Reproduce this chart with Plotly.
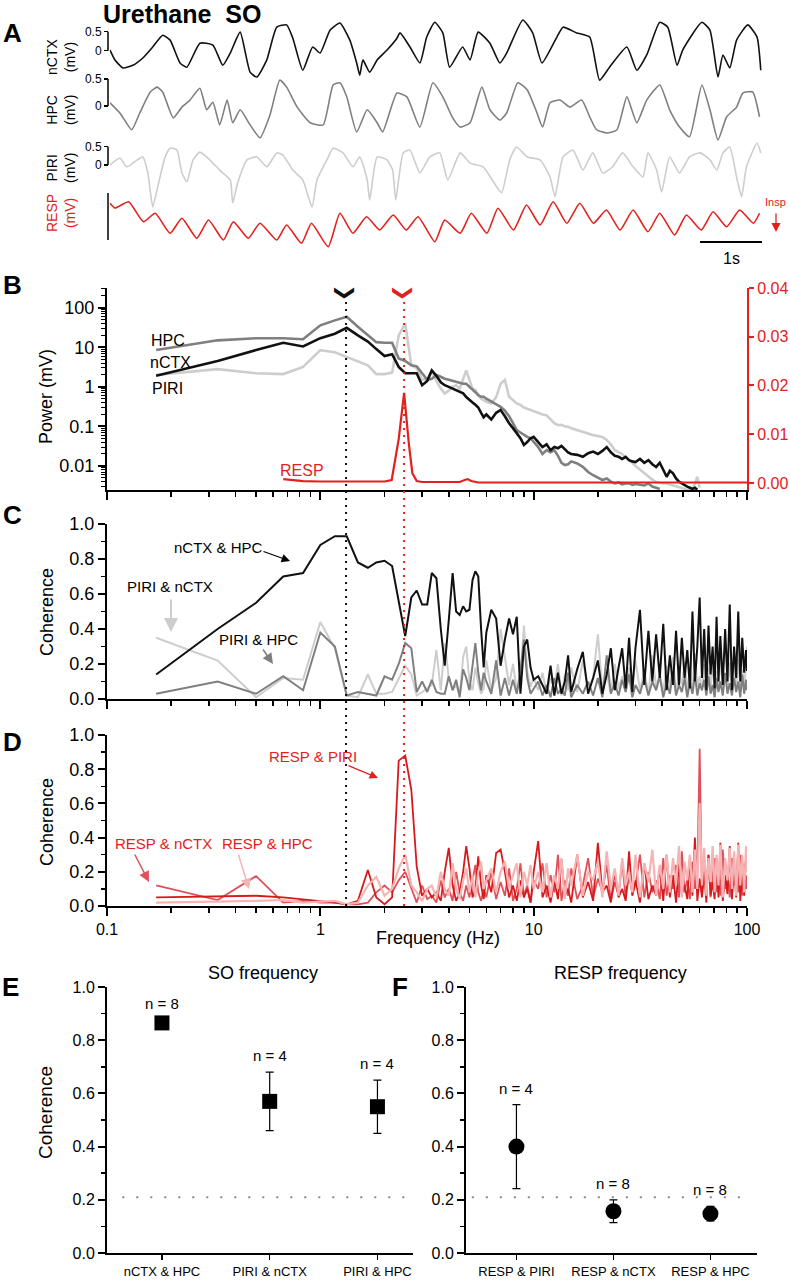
import math
import plotly.graph_objects as go

W, H = 790, 1280
FONT = "Liberation Sans, Arial, sans-serif"

# ---------------- data ----------------
# Panel A: raw traces (time in s, amplitude in mV)
NCTX_T = [0.00, 0.08, 0.21, 0.37, 0.53, 0.69, 0.85, 0.97, 1.13, 1.24, 1.45, 1.66, 1.82, 1.94, 2.10, 2.26, 2.37, 2.53,
          2.69, 2.85, 2.95, 3.11, 3.27, 3.39, 3.55, 3.71, 3.87, 3.98, 4.03, 4.08, 4.19, 4.31, 4.47, 4.63, 4.68, 4.84,
          5.00, 5.11, 5.24, 5.37, 5.48, 5.69, 5.81, 5.94, 6.13, 6.29, 6.40, 6.66, 6.82, 6.97, 7.21, 7.31, 7.53, 7.74,
          7.90, 8.06, 8.34, 8.50, 8.66, 8.87, 9.00, 9.15, 9.24, 9.55, 9.68, 9.81, 9.89, 10.00, 10.11, 10.29, 10.44, 10.50]
NCTX_MV = [0.02, -0.24, -0.45, -0.38, -0.19, 0.10, 0.41, 0.28, -0.32, -0.43, 0.20, 0.15, -0.38, -0.06, 0.49, -0.56,
           -0.69, -0.24, 0.62, 0.68, 0.33, -0.51, 0.10, -0.06, 0.54, 0.73, 0.28, -0.32, -0.64, -0.24, -0.56, -0.24,
           0.02, 0.33, 0.47, 0.10, -0.32, 0.36, 0.75, 0.47, -0.43, 0.10, -0.24, 0.49, 0.20, -0.32, -0.06, 0.81, 0.47,
           -0.32, 0.36, 0.62, 0.47, 0.36, -0.77, -0.43, 0.10, -0.51, -0.11, 0.75, 0.62, -0.38, 0.02, 0.75, 0.54, -0.69,
           -0.11, -0.45, 0.28, 0.68, 0.36, -0.51]
HPC_T = [0.00, 0.16, 0.35, 0.48, 0.65, 0.76, 0.85, 1.02, 1.16, 1.29, 1.45, 1.56, 1.66, 1.77, 1.89, 1.98, 2.10, 2.26,
         2.42, 2.58, 2.74, 2.85, 3.02, 3.23, 3.44, 3.60, 3.71, 3.82, 3.98, 4.15, 4.31, 4.40, 4.63, 4.79, 5.00, 5.21,
         5.37, 5.53, 5.65, 5.81, 6.00, 6.13, 6.29, 6.40, 6.58, 6.73, 6.89, 6.98, 7.10, 7.26, 7.42, 7.61, 7.74, 7.85,
         8.02, 8.18, 8.34, 8.50, 8.66, 8.87, 9.03, 9.19, 9.35, 9.55, 9.68, 9.81, 9.95, 10.11, 10.21, 10.37, 10.48]
HPC_MV = [0.06, -0.13, -0.44, -0.13, 0.26, 0.35, 0.26, -0.22, -0.02, 0.11, 0.33, -0.07, 0.07, -0.35, 0.11, -0.31,
          -0.07, -0.35, -0.59, -0.17, 0.48, 0.35, -0.02, -0.31, -0.35, 0.39, 0.43, 0.17, -0.48, -0.07, -0.31, -0.48,
          0.24, 0.17, -0.39, 0.43, 0.17, -0.22, -0.39, -0.31, 0.35, -0.07, -0.26, -0.13, 0.43, 0.30, -0.13, -0.39,
          0.06, 0.11, -0.02, 0.11, -0.20, -0.44, -0.50, -0.44, 0.17, -0.31, 0.11, 0.39, -0.07, -0.39, -0.57, 0.39,
          -0.07, -0.63, -0.20, -0.02, 0.24, 0.26, -0.20]
PIRI_T = [0.00, 0.16, 0.27, 0.44, 0.53, 0.61, 0.69, 0.77, 0.89, 0.97, 1.08, 1.16, 1.24, 1.34, 1.45, 1.61, 1.77, 1.94,
          1.98, 2.06, 2.21, 2.37, 2.53, 2.69, 2.79, 2.95, 3.11, 3.26, 3.34, 3.50, 3.60, 3.76, 3.92, 4.03, 4.15, 4.19,
          4.31, 4.47, 4.56, 4.61, 4.73, 4.84, 5.00, 5.16, 5.32, 5.45, 5.65, 5.81, 6.02, 6.24, 6.32, 6.45, 6.56, 6.73,
          6.94, 7.10, 7.18, 7.31, 7.47, 7.63, 7.79, 7.95, 8.11, 8.27, 8.44, 8.60, 8.68, 8.82, 8.90, 9.03, 9.19, 9.35,
          9.52, 9.68, 9.79, 9.89, 10.00, 10.11, 10.19, 10.27, 10.44, 10.50]
PIRI_MV = [0.00, 0.19, -0.05, 0.14, 0.22, -0.22, -1.15, -0.60, 0.22, 0.46, 0.41, -0.22, -0.46, 0.14, 0.35, 0.14,
           -0.14, -0.41, -1.04, -0.49, 0.14, 0.22, -0.05, 0.33, 0.27, -0.14, -0.41, -1.15, -0.41, 0.14, 0.46, 0.33,
           -0.05, 0.22, -0.41, -0.96, 0.22, 0.14, -0.14, -0.96, 0.33, 0.41, -0.22, 0.22, 0.33, -0.41, 0.33, 0.05,
           -0.05, -0.60, -0.76, 0.14, 0.49, 0.22, 0.14, -0.33, -0.87, 0.22, 0.41, -0.14, 0.33, -0.22, -0.05, 0.33,
           -0.05, -0.33, 0.33, -0.14, -0.74, 0.22, -0.22, 0.22, 0.33, 0.14, -0.14, 0.33, 0.49, -0.33, -0.87, -0.05,
           0.60, 0.33]
RESP_T = [0.00, 0.08, 0.30, 0.54, 0.73, 0.97, 1.16, 1.40, 1.59, 1.83, 1.99, 2.23, 2.42, 2.69, 2.85, 3.09, 3.25, 3.52,
          3.71, 3.92, 4.14, 4.35, 4.57, 4.78, 4.97, 5.24, 5.40, 5.65, 5.83, 6.08, 6.26, 6.51, 6.72, 6.94, 7.15, 7.37,
          7.58, 7.80, 8.01, 8.23, 8.44, 8.68, 8.87, 9.11, 9.30, 9.54, 9.73, 9.95, 10.16, 10.38, 10.48]
RESP_V = [0.67, 0.48, 0.73, -0.07, 0.27, -0.53, 0.07, -0.73, 0.00, -0.80, -0.07, -0.73, -0.13, -0.80, -0.20, -0.93,
          -0.13, -1.07, 0.27, -0.53, 0.13, -0.40, 0.20, -0.40, 0.13, -0.87, 0.00, -0.53, 0.27, -0.53, 0.47, -0.40,
          0.60, -0.20, 0.73, -0.13, 0.67, -0.13, 0.40, -0.40, 0.40, -0.47, 0.27, -0.60, 0.20, -0.40, 0.33, -0.27,
          0.40, -0.13, 0.27]

# Panels B-D: frequency bins (Hz)
FREQ = [0.17, 0.33, 0.5, 0.67, 0.83, 1.0, 1.17, 1.33, 1.5, 1.67, 1.83, 2.0, 2.17, 2.33, 2.5, 2.67, 2.83, 3.0,
        3.17, 3.33, 3.5, 3.67, 3.83, 4.0, 4.17, 4.33, 4.5, 4.67, 4.83, 5.0, 5.17, 5.33, 5.5, 5.67, 5.83, 6.0,
        6.33, 6.67, 7.0, 7.33, 7.67, 8.0, 8.33, 8.67, 9.0, 9.33, 9.67, 10.0,
        10.5, 11.0, 11.5, 12.0, 12.5, 13.0, 13.5, 14.0, 14.5, 15.0, 16.0, 17.0, 18.0, 19.0, 20.0, 21.0, 22.0, 23.0,
        24.0, 25.0, 26.0, 27.0, 28.0, 29.0, 30.0, 31.5, 33.0, 34.5, 36.0, 37.5, 39.0, 40.5, 42.0, 43.5, 45.0, 46.5,
        48.0, 49.5, 51.0, 52.5, 54.0, 55.5, 57.0, 58.5, 60.0, 61.5, 63.0, 64.5, 66.0, 67.5, 69.0, 70.5, 72.0, 73.5,
        75.0, 77.0, 79.0, 81.0, 83.0, 85.0, 87.0, 89.0, 91.0, 93.0, 95.0, 97.0, 99.0, 100.0]

# Panel B: power spectra (log axis), traces end where they drop below the axis
PSD_NCTX = [1.9, 4.5, 8.5, 13, 10.5, 17, 22, 31, 20, 14, 9, 6, 6.7, 3.2, 2.2, 2.2, 2.2, 1.1, 1.4, 2.6, 1.9, 1.3,
            1.1, 1.0, 0.9, 0.85, 0.75, 0.69, 0.55, 0.48, 0.40, 0.35, 0.30, 0.22, 0.17, 0.20, 0.15, 0.22, 0.26, 0.18,
            0.12, 0.09, 0.067, 0.05, 0.034, 0.04, 0.05, 0.054,
            0.040, 0.030, 0.035, 0.025, 0.030, 0.028, 0.032, 0.026, 0.022, 0.020, 0.019, 0.017, 0.021, 0.023, 0.020,
            0.024, 0.030, 0.022, 0.018, 0.017, 0.015, 0.017, 0.014, 0.013, 0.0125, 0.015, 0.012, 0.014, 0.011,
            0.0094, 0.012, 0.008, 0.0053, 0.0075, 0.0065, 0.0048, 0.0040, 0.0036, 0.0032, 0.0030, 0.0028, 0.0026,
            0.0028, 0.0025]
PSD_HPC = [8.5, 15, 17, 17, 16, 36, 48, 59, 33, 20, 13.5, 13, 13, 5.2, 4.5, 3.5, 3.3, 2.2, 1.5, 1.6, 2.0, 1.8, 1.6,
           1.5, 1.4, 1.3, 1.25, 1.2, 1.2, 1.0, 0.85, 0.70, 0.62, 0.56, 0.56, 0.50, 0.42, 0.35, 0.31, 0.25, 0.18, 0.12,
           0.08, 0.07, 0.06, 0.054, 0.05, 0.04,
           0.03, 0.02, 0.025, 0.022, 0.025, 0.018, 0.012, 0.0105, 0.011, 0.013, 0.0115, 0.0095, 0.007, 0.0058, 0.005,
           0.0044, 0.0048, 0.004, 0.0036, 0.0038, 0.0034, 0.0036, 0.0036, 0.0033, 0.0035, 0.0033, 0.0032, 0.0036,
           0.0030, 0.0028, 0.0026]
PSD_PIRI = [2.0, 2.8, 2.2, 2.1, 3.2, 8.5, 7.5, 5.7, 4.3, 3.5, 2.1, 2.1, 2.3, 20, 40, 3.5, 3.0, 1.5, 1.6, 2.6, 1.4, 0.9,
            0.68, 0.8, 1.0, 1.1, 0.9, 1.5, 2.6, 1.5, 0.9, 0.83, 0.6, 0.5, 0.45, 0.42, 0.38, 0.55, 1.2, 1.5, 0.56, 0.45,
            0.38, 0.35, 0.30, 0.28, 0.26, 0.24,
            0.22, 0.20, 0.19, 0.15, 0.12, 0.107, 0.11, 0.10, 0.097, 0.09, 0.08, 0.07, 0.066, 0.06, 0.057, 0.054, 0.045,
            0.035, 0.025, 0.022, 0.02, 0.016, 0.014, 0.012, 0.010, 0.008, 0.0064, 0.0055, 0.0045, 0.0039, 0.0037,
            0.0036, 0.0036, 0.0034, 0.0032, 0.003, 0.0028, 0.0027, 0.0026, 0.0025, 0.0025, 0.0026, 0.0035, 0.0053,
            0.0028]
RESP_FREQ = [0.67, 0.83, 1.0, 1.33, 1.67, 2.0, 2.16, 2.33, 2.47, 2.6, 2.7, 2.83, 3.0, 4.5, 4.75, 4.9, 5.1, 5.5,
             10.0, 30.0, 100.0]
RESP_PSD = [0.0008, 0.0004, 0.0003, 0.0003, 0.0002, 0.0003, 0.0006, 0.009, 0.0185, 0.008, 0.002, 0.0004, 0.0002,
            0.0002, 0.0006, 0.0008, 0.0004, 0.0001, 0.0001, 0.0001, 0.0001]

# Panel C: coherence between LFP pairs
COH_NCTX_HPC = [0.14, 0.40, 0.55, 0.70, 0.72, 0.88, 0.93, 0.93, 0.78, 0.75, 0.78, 0.79, 0.76, 0.55, 0.36, 0.58,
                0.62, 0.54, 0.54, 0.72, 0.69, 0.40, 0.19, 0.45, 0.72, 0.50, 0.48, 0.53, 0.50, 0.51, 0.68, 0.73,
                0.70, 0.40, 0.18, 0.38, 0.51, 0.46, 0.19, 0.34, 0.46, 0.37, 0.47, 0.03, 0.30, 0.34, 0.18, 0.11,
                0.13, 0.08, 0.03, 0.19, 0.02, 0.15, 0.03, 0.10, 0.25, 0.04, 0.17, 0.27, 0.03, 0.12, 0.22, 0.03,
                0.14, 0.29, 0.05, 0.18, 0.29, 0.06, 0.35, 0.04, 0.29, 0.51, 0.08, 0.39, 0.10, 0.37, 0.12, 0.43,
                0.05, 0.25, 0.08, 0.39, 0.08, 0.35, 0.12, 0.28, 0.06, 0.50, 0.10, 0.30, 0.58, 0.12, 0.40, 0.05,
                0.42, 0.14, 0.30, 0.06, 0.47, 0.10, 0.36, 0.08, 0.40, 0.10, 0.54, 0.05, 0.30, 0.12, 0.50, 0.10,
                0.35, 0.15, 0.28, 0.16]
COH_PIRI_HPC = [0.03, 0.10, 0.03, 0.13, 0.05, 0.38, 0.30, 0.02, 0.04, 0.03, 0.02, 0.13, 0.11, 0.20, 0.32, 0.29,
                0.04, 0.10, 0.04, 0.11, 0.04, 0.03, 0.03, 0.13, 0.05, 0.11, 0.01, 0.17, 0.12, 0.05, 0.20, 0.32,
                0.15, 0.05, 0.15, 0.10, 0.03, 0.22, 0.02, 0.12, 0.02, 0.11, 0.03, 0.16, 0.34, 0.12, 0.03, 0.06,
                0.10, 0.02, 0.08, 0.01, 0.12, 0.03, 0.06, 0.02, 0.15, 0.01, 0.08, 0.03, 0.10, 0.02, 0.12, 0.01,
                0.25, 0.03, 0.09, 0.02, 0.11, 0.04, 0.14, 0.01, 0.08, 0.03, 0.12, 0.02, 0.10, 0.05, 0.13, 0.01,
                0.09, 0.03, 0.16, 0.02, 0.08, 0.04, 0.12, 0.01, 0.10, 0.03, 0.14, 0.02, 0.09, 0.05, 0.11, 0.02,
                0.13, 0.03, 0.08, 0.01, 0.12, 0.04, 0.10, 0.02, 0.15, 0.03, 0.09, 0.02, 0.12, 0.04, 0.10, 0.01,
                0.14, 0.03, 0.11, 0.05]
COH_PIRI_NCTX = [0.35, 0.22, 0.01, 0.12, 0.11, 0.44, 0.29, 0.02, 0.01, 0.14, 0.03, 0.03, 0.04, 0.12, 0.19, 0.14,
                 0.02, 0.04, 0.06, 0.08, 0.28, 0.05, 0.32, 0.12, 0.05, 0.08, 0.02, 0.24, 0.30, 0.10, 0.05, 0.18,
                 0.09, 0.03, 0.06, 0.22, 0.05, 0.12, 0.40, 0.25, 0.08, 0.20, 0.05, 0.10, 0.42, 0.16, 0.07, 0.12,
                 0.05, 0.15, 0.03, 0.12, 0.06, 0.20, 0.02, 0.14, 0.05, 0.18, 0.04, 0.22, 0.06, 0.12, 0.37, 0.05,
                 0.15, 0.03, 0.20, 0.06, 0.13, 0.04, 0.18, 0.08, 0.22, 0.05, 0.16, 0.03, 0.25, 0.07, 0.14, 0.04,
                 0.19, 0.06, 0.24, 0.03, 0.15, 0.08, 0.21, 0.05, 0.17, 0.04, 0.26, 0.07, 0.13, 0.05, 0.20, 0.03,
                 0.18, 0.06, 0.22, 0.04, 0.16, 0.08, 0.25, 0.05, 0.14, 0.06, 0.21, 0.03, 0.19, 0.07, 0.23, 0.05,
                 0.17, 0.04, 0.22, 0.30]

# Panel D: coherence of respiration with each LFP
COH_RESP_PIRI = [0.05, 0.055, 0.06, 0.05, 0.04, 0.03, 0.02, 0.01, 0.03, 0.21, 0.05, 0.01, 0.05, 0.85, 0.88, 0.68,
                 0.23, 0.06, 0.10, 0.05, 0.08, 0.03, 0.20, 0.34, 0.12, 0.03, 0.08, 0.20, 0.35, 0.22, 0.05, 0.10,
                 0.29, 0.12, 0.04, 0.18, 0.08, 0.31, 0.33, 0.20, 0.05, 0.12, 0.03, 0.15, 0.05, 0.10, 0.02, 0.20,
                 0.38, 0.05, 0.12, 0.02, 0.15, 0.04, 0.27, 0.06, 0.10, 0.02, 0.30, 0.05, 0.14, 0.03, 0.37, 0.08,
                 0.12, 0.02, 0.20, 0.05, 0.10, 0.03, 0.32, 0.06, 0.15, 0.02, 0.25, 0.04, 0.12, 0.06, 0.22, 0.03,
                 0.30, 0.05, 0.18, 0.02, 0.25, 0.07, 0.12, 0.04, 0.28, 0.06, 0.40, 0.03, 0.16, 0.05, 0.20, 0.02,
                 0.30, 0.06, 0.14, 0.04, 0.28, 0.05, 0.37, 0.03, 0.18, 0.07, 0.35, 0.04, 0.22, 0.05, 0.37, 0.03,
                 0.20, 0.06, 0.30, 0.25]
COH_RESP_NCTX = [0.12, 0.035, 0.175, 0.02, 0.03, 0.02, 0.02, 0.01, 0.01, 0.02, 0.08, 0.12, 0.08, 0.15, 0.20, 0.10,
                 0.02, 0.12, 0.04, 0.06, 0.02, 0.15, 0.05, 0.10, 0.03, 0.20, 0.08, 0.03, 0.12, 0.05, 0.15, 0.24,
                 0.08, 0.03, 0.10, 0.05, 0.20, 0.04, 0.14, 0.06, 0.22, 0.03, 0.10, 0.25, 0.06, 0.12, 0.02, 0.15,
                 0.10, 0.25, 0.05, 0.18, 0.08, 0.30, 0.03, 0.15, 0.06, 0.22, 0.04, 0.12, 0.28, 0.05, 0.16, 0.08,
                 0.24, 0.03, 0.14, 0.06, 0.26, 0.04, 0.18, 0.07, 0.12, 0.30, 0.05, 0.20, 0.08, 0.15, 0.04, 0.28,
                 0.06, 0.18, 0.10, 0.24, 0.05, 0.32, 0.08, 0.16, 0.04, 0.26, 0.10, 0.20, 0.92, 0.06, 0.22, 0.10,
                 0.30, 0.05, 0.18, 0.28, 0.08, 0.24, 0.06, 0.33, 0.10, 0.20, 0.05, 0.28, 0.12, 0.22, 0.08, 0.30,
                 0.06, 0.25, 0.10, 0.18]
COH_RESP_HPC = [0.02, 0.025, 0.03, 0.035, 0.02, 0.025, 0.03, 0.01, 0.02, 0.12, 0.17, 0.06, 0.10, 0.22, 0.30, 0.12,
                0.08, 0.03, 0.10, 0.12, 0.05, 0.20, 0.10, 0.06, 0.25, 0.10, 0.04, 0.15, 0.22, 0.08, 0.18, 0.05,
                0.20, 0.26, 0.10, 0.15, 0.22, 0.08, 0.20, 0.26, 0.10, 0.18, 0.25, 0.05, 0.20, 0.12, 0.24, 0.10,
                0.20, 0.08, 0.25, 0.05, 0.18, 0.10, 0.28, 0.04, 0.22, 0.12, 0.30, 0.06, 0.20, 0.15, 0.26, 0.05,
                0.32, 0.10, 0.22, 0.06, 0.28, 0.12, 0.20, 0.08, 0.30, 0.05, 0.25, 0.14, 0.33, 0.06, 0.24, 0.10,
                0.30, 0.08, 0.28, 0.12, 0.35, 0.05, 0.26, 0.15, 0.30, 0.08, 0.33, 0.10, 0.60, 0.12, 0.34, 0.06,
                0.28, 0.14, 0.35, 0.08, 0.30, 0.12, 0.36, 0.05, 0.28, 0.15, 0.34, 0.10, 0.32, 0.06, 0.36, 0.12,
                0.30, 0.08, 0.35, 0.20]

SO_PEAK_HZ = 1.32
RESP_PEAK_HZ = 2.47

# Panels E-F: group coherence (mean +/- SEM)
E_PAIRS = ["nCTX & HPC", "PIRI & nCTX", "PIRI & HPC"]
E_MEAN = [0.865, 0.57, 0.55]
E_SEM = [0.01, 0.11, 0.10]
E_N = [8, 4, 4]
F_PAIRS = ["RESP & PIRI", "RESP & nCTX", "RESP & HPC"]
F_MEAN = [0.40, 0.157, 0.148]
F_SEM = [0.158, 0.043, 0.027]
F_N = [4, 8, 8]
CHANCE = 0.21

for s in (COH_NCTX_HPC, COH_PIRI_HPC, COH_PIRI_NCTX, COH_RESP_PIRI, COH_RESP_NCTX, COH_RESP_HPC):
    assert len(s) == len(FREQ), len(s)
assert len(RESP_T) == len(RESP_V)

# ---------------- styling ----------------
BLACK = "#111111"
GRAY = "#7f7f7f"
LGRAY = "#cdcdcd"
RED = "#e3211c"
D_PIRI = "#d7191c"
D_NCTX = "#e0505a"
D_HPC = "#f6b3b3"


def xdom(left, right):
    return [left / W, right / W]


def ydom(top, bottom):
    return [1 - bottom / H, 1 - top / H]


def px(x, y):
    return x / W, 1 - y / H


MINOR_LOG = [m * 10 ** e for e in range(-3, 3) for m in range(2, 10)]

fig = go.Figure()


def line(x, y, xa, ya, color, width, shape="linear"):
    fig.add_trace(go.Scatter(x=x, y=y, xaxis=xa, yaxis=ya, mode="lines",
                             line=dict(color=color, width=width, shape=shape, smoothing=0.5),
                             hoverinfo="skip"))


# A
line(NCTX_T, NCTX_MV, "x", "y", BLACK, 1.6, "spline")
line(HPC_T, HPC_MV, "x", "y2", GRAY, 1.6, "spline")
line(PIRI_T, PIRI_MV, "x", "y3", LGRAY, 1.6, "spline")
line(RESP_T, RESP_V, "x", "y4", RED, 1.6, "spline")

# B
line(FREQ[:len(PSD_PIRI)], PSD_PIRI, "x2", "y5", LGRAY, 2.6)
line(FREQ[:len(PSD_HPC)], PSD_HPC, "x2", "y5", GRAY, 2.6)
line(FREQ[:len(PSD_NCTX)], PSD_NCTX, "x2", "y5", BLACK, 2.6)
line(RESP_FREQ, RESP_PSD, "x2", "y6", RED, 2.2)

# C
line(FREQ, COH_PIRI_NCTX, "x3", "y7", LGRAY, 2)
line(FREQ, COH_PIRI_HPC, "x3", "y7", GRAY, 2)
line(FREQ, COH_NCTX_HPC, "x3", "y7", BLACK, 2)

# D
line(FREQ, COH_RESP_NCTX, "x4", "y8", D_NCTX, 1.8)
line(FREQ, COH_RESP_PIRI, "x4", "y8", D_PIRI, 1.8)
line(FREQ, COH_RESP_HPC, "x4", "y8", D_HPC, 2.2)

# dotted peak markers across B-D
for f, c in ((SO_PEAK_HZ, BLACK), (RESP_PEAK_HZ, RED)):
    fig.add_trace(go.Scatter(x=[f, f], y=[0, 0.975], xaxis="x7", yaxis="y11", mode="lines",
                             line=dict(color=c, width=2, dash="2px,5px"), hoverinfo="skip"))

# E / F
fig.add_trace(go.Scatter(x=E_PAIRS, y=E_MEAN, xaxis="x5", yaxis="y9", mode="markers",
                         marker=dict(symbol="square", size=15, color="black"),
                         error_y=dict(type="data", array=E_SEM, color="black", thickness=1.2, width=4)))
fig.add_trace(go.Scatter(x=F_PAIRS, y=F_MEAN, xaxis="x6", yaxis="y10", mode="markers",
                         marker=dict(symbol="circle", size=16, color="black"),
                         error_y=dict(type="data", array=F_SEM, color="black", thickness=1.2, width=4)))

# ---------------- axes ----------------
hidden = dict(visible=False, showgrid=False, zeroline=False, automargin=False)
ax_line = dict(showgrid=False, zeroline=False, showline=True, linecolor="black", linewidth=2,
               ticks="outside", tickcolor="black", tickwidth=2, automargin=False)


def trace_y(dom, rng):
    return dict(domain=ydom(*dom), range=rng, anchor="free", position=108 / W, showgrid=False,
                zeroline=False, showline=False, ticks="outside", ticklen=4, tickwidth=1.2, tickcolor="black",
                tickvals=[0, 0.5], ticktext=["0", "0.5"], tickfont=dict(size=12, color="black"),
                automargin=False)


def log_x(anchor, labels):
    return dict(ax_line, type="log", range=[-1, 2], domain=xdom(107, 747), anchor=anchor, ticklen=8,
                tickvals=[0.1, 1, 10, 100], ticktext=["0.1", "1", "10", "100"], showticklabels=labels,
                tickfont=dict(size=16, color="black"),
                minor=dict(tickvals=[v for v in MINOR_LOG if 0.1 < v < 100], ticks="outside", ticklen=5,
                           tickwidth=1.5, tickcolor="black"))


def coh_y(dom, anchor, size):
    return dict(ax_line, domain=ydom(*dom), range=[0, 1], anchor=anchor, ticklen=7,
                tickvals=[0, 0.2, 0.4, 0.6, 0.8, 1.0], ticktext=["0.0", "0.2", "0.4", "0.6", "0.8", "1.0"],
                tickfont=dict(size=size, color="black"),
                minor=dict(tickvals=[0.1, 0.3, 0.5, 0.7, 0.9], ticks="outside", ticklen=4, tickwidth=1.5,
                           tickcolor="black"))


fig.update_layout(
    template="none",
    width=W, height=H, autosize=False, margin=dict(l=0, r=0, t=0, b=0, pad=0),
    paper_bgcolor="white", plot_bgcolor="rgba(0,0,0,0)", showlegend=False, hovermode=False,
    font=dict(family=FONT, color="black"),
    xaxis=dict(hidden, domain=xdom(110, 762), range=[0, 10.52], anchor="y"),
    yaxis=trace_y((15, 90), [-1.03, 0.94]),
    yaxis2=trace_y((70, 150), [-0.815, 0.667]),
    yaxis3=trace_y((135, 215), [-1.37, 0.82]),
    yaxis4=dict(hidden, domain=ydom(190, 250), range=[-1.2, 1.2]),
    xaxis2=log_x("y5", False),
    yaxis5=dict(ax_line, type="log", domain=ydom(288, 490), range=[-2.61, 2.5], anchor="x2", ticklen=7,
                tickvals=[0.01, 0.1, 1, 10, 100], ticktext=["0.01", "0.1", "1", "10", "100"],
                tickfont=dict(size=18, color="black"),
                minor=dict(tickvals=MINOR_LOG, ticks="outside", ticklen=4, tickwidth=1, tickcolor="black")),
    yaxis6=dict(showgrid=False, zeroline=False, showline=True, linecolor=RED, linewidth=2, ticks="outside",
                tickcolor=RED, tickwidth=2, ticklen=5, overlaying="y5", side="right", anchor="x2",
                range=[-0.00144, 0.04], tickvals=[0, 0.01, 0.02, 0.03, 0.04], automargin=False,
                ticktext=["0.00", "0.01", "0.02", "0.03", "0.04"], tickfont=dict(size=16, color=RED)),
    xaxis3=log_x("y7", False),
    yaxis7=coh_y((524, 699), "x3", 18),
    xaxis4=log_x("y8", True),
    yaxis8=coh_y((735, 906), "x4", 18),
    xaxis5=dict(ax_line, type="category", domain=xdom(107, 413), range=[-0.51, 2.33], anchor="y9", ticklen=5,
                tickwidth=1.5, tickfont=dict(size=13, color="black")),
    yaxis9=coh_y((987, 1253), "x5", 16),
    xaxis6=dict(ax_line, type="category", domain=xdom(466, 757), range=[-0.52, 2.48], anchor="y10", ticklen=5,
                tickwidth=1.5, tickfont=dict(size=13, color="black")),
    yaxis10=coh_y((987, 1253), "x6", 16),
    xaxis7=dict(hidden, type="log", range=[-1, 2], domain=xdom(107, 747), anchor="y11"),
    yaxis11=dict(hidden, domain=ydom(276, 906), range=[0, 1], anchor="x7"),
)

# ---------------- shapes ----------------
shapes = []
for ya in ("y", "y2", "y3"):
    shapes.append(dict(type="line", xref="paper", yref=ya, x0=108 / W, x1=108 / W, y0=0, y1=0.5,
                       line=dict(color="black", width=1.5)))
shapes.append(dict(type="line", xref="paper", yref="y4", x0=108 / W, x1=108 / W, y0=1.08, y1=-0.8,
                   line=dict(color="black", width=1.5)))
shapes.append(dict(type="line", xref="x", yref="paper", x0=9.52, x1=10.52, y0=1 - 242 / H, y1=1 - 242 / H,
                   line=dict(color="black", width=2)))
shapes.append(dict(type="line", xref="x5 domain", yref="y9", x0=0.05, x1=1.0, y0=CHANCE, y1=CHANCE,
                   line=dict(color="#8a8a8a", width=2, dash="2px,12px")))
shapes.append(dict(type="line", xref="x6 domain", yref="y10", x0=0.02, x1=0.98, y0=CHANCE, y1=CHANCE,
                   line=dict(color="#8a8a8a", width=2, dash="2px,12px")))
fig.update_layout(shapes=shapes)

# ---------------- text ----------------
ann = []


def text(x, y, s, size=15, color="black", angle=0, bold=False, **kw):
    xx, yy = px(x, y)
    ann.append(dict(x=xx, y=yy, xref="paper", yref="paper", text=f"<b>{s}</b>" if bold else s,
                    showarrow=False, textangle=angle, font=dict(size=size, color=color, family=FONT),
                    xanchor="center", yanchor="middle", **kw))


def arrow(tail, head, color, width=1.3):
    hx, hy = px(*head)
    ann.append(dict(x=hx, y=hy, xref="paper", yref="paper", text="", showarrow=True,
                    ax=tail[0] - head[0], ay=tail[1] - head[1], arrowcolor=color, arrowwidth=width,
                    arrowhead=2, arrowsize=1.4))


text(182, 14, "Urethane\u00a0 SO", size=25, bold=True)
for lab, x, y in (("A", 12, 33), ("B", 12, 285), ("C", 12, 515), ("D", 12, 742), ("E", 10, 987), ("F", 400, 987)):
    text(x, y, lab, size=26, bold=True)

text(61, 57, "nCTX<br>(mV)", size=14, angle=-90)
text(61, 110, "HPC<br>(mV)", size=14, angle=-90)
text(61, 168, "PIRI<br>(mV)", size=14, angle=-90)
text(61, 213, "RESP<br>(mV)", size=14, angle=-90, color=RED)
text(731, 258, "1s", size=16)
text(775, 202, "Insp", size=11, color=RED)
arrow((776, 212), (776, 232), RED, 1.3)

text(46, 397, "Power (mV)", size=18, angle=-90)
text(168, 341, "HPC", size=16)
text(170, 362, "nCTX", size=16)
text(167, 388, "PIRI", size=16)
text(302, 470, "RESP", size=16, color=RED)

text(47, 612, "Coherence", size=18, angle=-90)
text(219, 547, "nCTX & HPC", size=15)
arrow((262, 551), (290, 561), "black", 1.2)
text(170, 586, "PIRI & nCTX", size=15)
arrow((171, 598), (171, 632), LGRAY, 2)
text(258, 639, "PIRI & HPC", size=15)
arrow((262, 648), (273, 664), GRAY, 1.5)

text(47, 822, "Coherence", size=18, angle=-90)
text(313, 756, "RESP & PIRI", size=15, color=RED)
arrow((347, 765), (378, 778), RED, 1.2)
text(163, 843, "RESP & nCTX", size=15, color=RED)
arrow((134, 853), (149, 882), D_NCTX, 1.5)
text(267, 843, "RESP & HPC", size=15, color=RED)
arrow((238, 853), (249, 889), D_HPC, 1.5)
text(438, 938, "Frequency (Hz)", size=18)

text(45, 1113, "Coherence", size=19, angle=-90)
text(263, 973, "SO frequency", size=18)
text(620, 973, "RESP frequency", size=18)

for xa, ya, pairs, means, sems, ns in (("x5", "y9", E_PAIRS, E_MEAN, E_SEM, E_N),
                                        ("x6", "y10", F_PAIRS, F_MEAN, F_SEM, F_N)):
    for p, m, s, n in zip(pairs, means, sems, ns):
        ann.append(dict(x=p, y=m + s, xref=xa, yref=ya, text=f"n = {n}", showarrow=False, yanchor="bottom",
                        yshift=6, font=dict(size=15, color="black", family=FONT)))

# chevrons marking the SO and respiration peaks
for f, c in ((SO_PEAK_HZ, BLACK), (RESP_PEAK_HZ, RED)):
    ann.append(dict(x=math.log10(f), y=1 - 282 / H, xref="x7", yref="paper", text="\u276F", textangle=90,
                    showarrow=False, font=dict(size=20, color=c, family="DejaVu Sans")))

fig.update_layout(annotations=ann)
fig.write_html("out.html", config={"displayModeBar": False, "staticPlot": True},
               post_script="document.body.style.margin='0';document.body.style.overflow='hidden';")
